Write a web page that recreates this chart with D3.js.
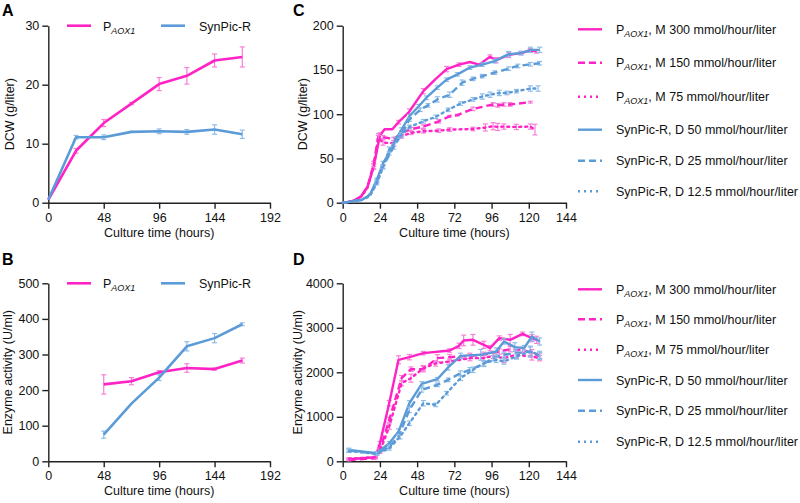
<!DOCTYPE html>
<html><head><meta charset="utf-8">
<script src="https://cdn.jsdelivr.net/npm/d3@7"></script>
<style>body{margin:0;background:#fff}svg{display:block;font-family:"Liberation Sans",Arial,sans-serif}</style>
</head><body><svg id="c" width="800" height="503"></svg>
<script>
// ---------- DATA ----------
// Panel A (DCW, g/liter)
const timesA = [0,24,48,72,96,120,144,168];
const aoxA = [0.5,8.8,13.5,16.8,20.1,21.5,24.1,24.7];
const aoxAerr = [0,0.4,0.6,0.2,1.1,1.4,1.1,1.7];
const synA = [0.5,11.1,11.1,12.0,12.1,12.0,12.4,11.6];
const synAerr = [0,0.3,0.4,0.1,0.4,0.4,0.8,0.7];
// Panel B (enzyme activity, U/ml)
const timesB = [48,72,96,120,144,168];
const aoxB = [216,225,250,262,259,283];
const aoxBerr = [27,10,5,12,3,7];
const synB = [75,162,235,323,346,385];
const synBerr = [10,0,8,13,13,4];
// Panel C (DCW, g/liter)
const tC_M300 = [0,4,8,12,16,20,24,27,32,36,43,52,60,67,75,82,88,95,99,107,115,121,125];
const vC_M300 = [0,1,3,7.6,18,41,76,83,83,91,103,126,140,151,156,159,156,165,161,167,169,172,171];
const eC_M300 = [0,0,0,0,0,3,3,0,0,2,3,3,0,3,2,0,0,2,3,3,2,2,2];
const tC_M150 = [0,4,8,12,16,20,23,26,33,38,44,52,62,69,74,84,97,100,104,108,121];
const vC_M150 = [0,1,3,7,18,44,75,74,72,79,83,86,92,97.7,99,106,111,110,111,111,113.6];
const eC_M150 = [0,0,0,0,0,3,3,2,2,2,2,2,2,1,1,2,2,2,2,2,1];
const tC_M75 = [0,4,8,12,16,20,23,26,33,38,44,52,62,69,84,92,97,100,104,112,121,124];
const vC_M75 = [0,1,3,7,17,41,73,68,67,75,79,80.7,81.4,82.6,83.3,85,86.4,85.6,86,85.6,86,82.6];
const eC_M75 = [0,0,0,0,0,3,3,3,3,2,2,2,2,2,2,4,4,4,3,3,3,6];
const tC_D50 = [0,4,8,12,16,18,22,26,30,34,38,43,49,54,61,67,74,82,90,98,107,115,121,127];
const vC_D50 = [0,1,2,3,7,10.6,25.8,44.7,56,71,82.6,97.7,109,118.6,130,139,145,152.7,156,160,167.8,169,172.7,172.7];
const eC_D50 = [0,0,0,0,0,0,2,2,2,3,2,2,2,2,2,2,2,2,2,2,3,2,3,3];
const tC_D25 = [0,4,8,12,16,18,22,26,33,38,43,50,55,61,69,77,84,90,98,107,113,121,127];
const vC_D25 = [0,1,2,3,7,10,24,41,63.6,77,94,105,110,116.7,122,135.6,140,143,147,151.5,154.5,156.4,157.6];
const eC_D25 = [0,0,0,0,0,0,2,2,3,2,2,2,2,3,3,3,2,2,2,2,2,2,2];
const tC_D12 = [0,4,8,12,16,18,22,26,30,37,43,52,60,68,76,84,90,95,101,106,112,121,126];
const vC_D12 = [0,1,2,3,6,9,22,40,60,75,85.6,92,97,105,112,116.7,120,122,124,124,126,129,129];
const eC_D12 = [0,0,0,0,0,0,2,2,3,2,2,2,2,2,2,2,3,3,3,2,2,3,3];
// Panel D (enzyme activity, U/ml)
const tD_M300 = [4,21,24,30,36,43,52,69,75,78,84,91,95,101,108,116,122,125];
const vD_M300 = [45,90,405,1305,2280,2340,2430,2490,2595,2715,2730,2618,2543,2768,2730,2865,2768,2730];
const eD_M300 = [20,20,40,60,90,60,40,40,60,120,120,80,60,50,120,40,80,80];
const tD_M150 = [4,21,24,30,38,44,52,61,69,82,91,101,108,116,122,127];
const vD_M150 = [30,68,255,930,1868,2070,2070,2318,2340,2370,2393,2468,2520,2505,2430,2370];
const eD_M150 = [20,20,40,60,60,50,60,80,60,60,60,60,60,60,80,60];
const tD_M75 = [4,21,24,30,38,44,52,60,69,82,91,97,104,112,122,127];
const vD_M75 = [60,90,218,780,1755,1868,2093,2200,2243,2318,2318,2370,2318,2393,2355,2318];
const eD_M75 = [20,20,40,60,60,90,60,60,60,60,60,60,100,80,80,60];
const tD_D50 = [4,22,30,36,43,51,61,68,76,89,99,104,111,117,122,127];
const vD_D50 = [255,180,405,668,1305,1740,1845,2110,2370,2393,2468,2693,2565,2543,2805,2693];
const eD_D50 = [40,40,40,60,60,50,40,60,60,120,80,60,100,60,100,80];
const tD_D25 = [4,22,30,36,43,51,61,68,76,82,91,97,104,112,121,127];
const vD_D25 = [240,170,330,555,1155,1605,1718,1830,1980,2055,2190,2318,2393,2430,2468,2370];
const eD_D25 = [40,30,40,50,60,50,40,40,50,50,60,60,60,100,120,80];
const tD_D12 = [4,22,30,37,43,52,60,67,76,84,91,99,104,112,121,127];
const vD_D12 = [230,170,290,555,855,1305,1268,1530,1868,2055,2205,2280,2243,2355,2468,2393];
const eD_D12 = [30,30,40,50,50,60,40,40,50,60,60,60,60,60,100,80];

const xTicksAB = [0,48,96,144,192];
const xTicksCD = [0,24,48,72,96,120,144];
const yTicksA = [0,10,20,30];
const yTicksB = [0,100,200,300,400,500];
const yTicksC = [0,50,100,150,200];
const yTicksD = [0,1000,2000,3000,4000];

const legendLabelsCD = [
  {p:true, rest:", M 300 mmol/hour/liter"},
  {p:true, rest:", M 150 mmol/hour/liter"},
  {p:true, rest:", M 75 mmol/hour/liter"},
  {p:false, rest:"SynPic-R, D 50 mmol/hour/liter"},
  {p:false, rest:"SynPic-R, D 25 mmol/hour/liter"},
  {p:false, rest:"SynPic-R, D 12.5 mmol/hour/liter"}];

// ---------- STYLE ----------
const PINK = "#ff22c4", BLUE = "#5b9bd8";
const PINK_E = "#f77fd9", BLUE_E = "#8fbde8";
const DASH = {solid:null, dash:"7,4", dot:"2,4"};

const svg = d3.select("#c");

function panel(o){
  const x = d3.scaleLinear().domain(o.xd).range([o.x0,o.x1]);
  const y = d3.scaleLinear().domain(o.yd).range([o.y0,o.y1]);
  const g = svg.append("g");
  const ax = g.append("g").attr("transform",`translate(0,${o.y0})`)
    .call(d3.axisBottom(x).tickValues(o.xt).tickFormat(d3.format("d")).tickSize(6).tickSizeOuter(0).tickPadding(4));
  const ay = g.append("g").attr("transform",`translate(${o.x0},0)`)
    .call(d3.axisLeft(y).tickValues(o.yt).tickFormat(d3.format("d")).tickSize(6).tickSizeOuter(0).tickPadding(3));
  [ax,ay].forEach(a=>{
    a.selectAll("path,line").attr("stroke","#222").attr("stroke-width",1.4);
    a.selectAll("text").attr("font-size",12.5).attr("fill","#111").attr("font-family","Liberation Sans, Arial");
  });
  g.append("text").attr("x",(o.x0+x(o.xd[1]))/2).attr("y",o.y0+34)
    .attr("text-anchor","middle").attr("font-size",12.5).attr("fill","#111").text("Culture time (hours)");
  g.append("text").attr("transform",`translate(${o.ylx},${(o.y0+o.y1)/2}) rotate(-90)`)
    .attr("text-anchor","middle").attr("font-size",12.5).attr("fill","#111").text(o.ylab);
  g.append("text").attr("x",o.lx).attr("y",o.ly).attr("font-size",16).attr("font-weight","bold").text(o.letter);
  o.series.forEach(s=>{
    const pts = s.t.map((t,i)=>({t, v:s.v[i], e:s.e[i]}));
    const eg = g.append("g");
    pts.filter(p=>p.e>0).forEach(p=>{
      const xx = x(p.t), ya = y(p.v+p.e), yb = y(p.v-p.e);
      eg.append("line").attr("x1",xx).attr("x2",xx).attr("y1",ya).attr("y2",yb);
      eg.append("line").attr("x1",xx-2.5).attr("x2",xx+2.5).attr("y1",ya).attr("y2",ya);
      eg.append("line").attr("x1",xx-2.5).attr("x2",xx+2.5).attr("y1",yb).attr("y2",yb);
    });
    eg.attr("stroke",s.ec).attr("stroke-width",1.2);
    g.append("path").datum(pts)
      .attr("d",d3.line().x(p=>x(p.t)).y(p=>y(p.v)))
      .attr("fill","none").attr("stroke",s.c).attr("stroke-width",s.w||2.4)
      .attr("stroke-dasharray",DASH[s.d]).attr("stroke-linecap",s.d==="dot"?"round":"butt")
      .attr("stroke-linejoin","round");
  });
}

function pLabel(sel, x, y, rest, size){
  const t = sel.append("text").attr("x",x).attr("y",y).attr("font-size",size).attr("fill","#111");
  t.append("tspan").text("P");
  t.append("tspan").attr("font-style","italic").attr("font-size",size*0.72).attr("dy",3).text("AOX1");
  if(rest) t.append("tspan").attr("dy",-3).text(rest);
  return t;
}

function legendAB(y){
  svg.append("line").attr("x1",67).attr("x2",91).attr("y1",y).attr("y2",y).attr("stroke",PINK).attr("stroke-width",2.6);
  pLabel(svg,103,y+5,null,12.5);
  svg.append("line").attr("x1",161).attr("x2",185).attr("y1",y).attr("y2",y).attr("stroke",BLUE).attr("stroke-width",2.6);
  svg.append("text").attr("x",199).attr("y",y+5).attr("font-size",12.5).attr("fill","#111").text("SynPic-R");
}

function legendCD(ys){
  const cols=[PINK,PINK,PINK,BLUE,BLUE,BLUE], ds=["solid","dash","dot","solid","dash","dot"];
  legendLabelsCD.forEach((L,i)=>{
    const y=ys[i];
    svg.append("line").attr("x1",578).attr("x2",602).attr("y1",y).attr("y2",y)
      .attr("stroke",cols[i]).attr("stroke-width",2.4).attr("stroke-dasharray",DASH[ds[i]]);
    if(L.p) pLabel(svg,616,y+4.5,L.rest,12.5);
    else svg.append("text").attr("x",616).attr("y",y+4.5).attr("font-size",12.5).attr("fill","#111").text(L.rest);
  });
}

panel({xd:[0,192],yd:[0,30],x0:48.3,x1:270,y0:202.7,y1:25.7,xt:xTicksAB,yt:yTicksA,
  ylab:"DCW (g/liter)",ylx:14,letter:"A",lx:2,ly:16,
  series:[{t:timesA,v:aoxA,e:aoxAerr,c:PINK,ec:PINK_E,d:"solid",w:2.6},
          {t:timesA,v:synA,e:synAerr,c:BLUE,ec:BLUE_E,d:"solid",w:2.6}]});
panel({xd:[0,192],yd:[0,500],x0:48.3,x1:270,y0:461.3,y1:283.3,xt:xTicksAB,yt:yTicksB,
  ylab:"Enzyme activity (U/ml)",ylx:12,letter:"B",lx:2,ly:265,
  series:[{t:timesB,v:aoxB,e:aoxBerr,c:PINK,ec:PINK_E,d:"solid",w:2.6},
          {t:timesB,v:synB,e:synBerr,c:BLUE,ec:BLUE_E,d:"solid",w:2.6}]});
panel({xd:[0,144],yd:[0,200],x0:342.7,x1:566,y0:202.7,y1:25.7,xt:xTicksCD,yt:yTicksC,
  ylab:"DCW (g/liter)",ylx:307,letter:"C",lx:293,ly:16,
  series:[{t:tC_M300,v:vC_M300,e:eC_M300,c:PINK,ec:PINK_E,d:"solid"},
          {t:tC_M150,v:vC_M150,e:eC_M150,c:PINK,ec:PINK_E,d:"dash"},
          {t:tC_M75,v:vC_M75,e:eC_M75,c:PINK,ec:PINK_E,d:"dot"},
          {t:tC_D50,v:vC_D50,e:eC_D50,c:BLUE,ec:BLUE_E,d:"solid"},
          {t:tC_D25,v:vC_D25,e:eC_D25,c:BLUE,ec:BLUE_E,d:"dash"},
          {t:tC_D12,v:vC_D12,e:eC_D12,c:BLUE,ec:BLUE_E,d:"dot"}]});
panel({xd:[0,144],yd:[0,4000],x0:342.7,x1:566,y0:461.3,y1:283.3,xt:xTicksCD,yt:yTicksD,
  ylab:"Enzyme activity (U/ml)",ylx:302,letter:"D",lx:293,ly:265,
  series:[{t:tD_M300,v:vD_M300,e:eD_M300,c:PINK,ec:PINK_E,d:"solid"},
          {t:tD_M150,v:vD_M150,e:eD_M150,c:PINK,ec:PINK_E,d:"dash"},
          {t:tD_M75,v:vD_M75,e:eD_M75,c:PINK,ec:PINK_E,d:"dot"},
          {t:tD_D50,v:vD_D50,e:eD_D50,c:BLUE,ec:BLUE_E,d:"solid"},
          {t:tD_D25,v:vD_D25,e:eD_D25,c:BLUE,ec:BLUE_E,d:"dash"},
          {t:tD_D12,v:vD_D12,e:eD_D12,c:BLUE,ec:BLUE_E,d:"dot"}]});
legendAB(25.7);
legendAB(283.3);
legendCD([29.3,62.7,96.7,129.7,160.7,191.3]);
legendCD([289.3,319.3,349.7,380,410.7,441.7]);
</script></body></html>
